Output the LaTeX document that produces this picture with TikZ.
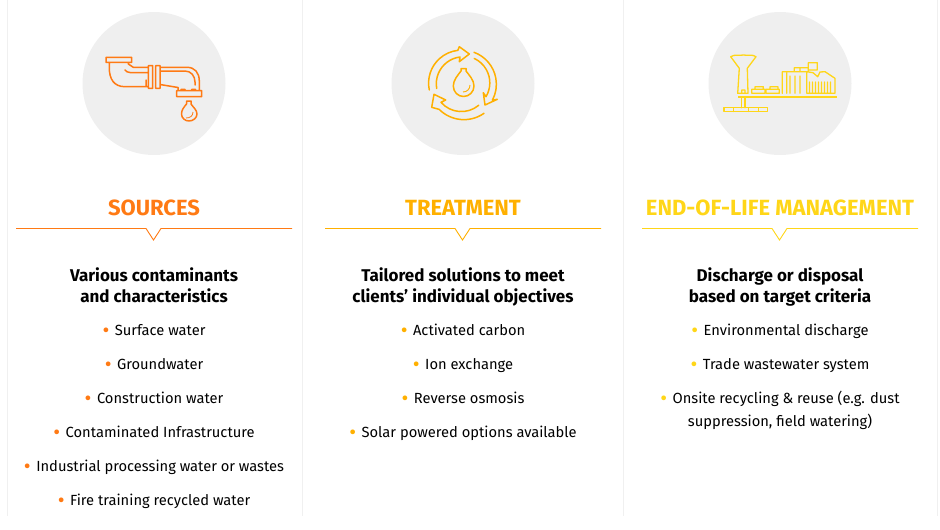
\documentclass[tikz,border=0pt]{standalone}
\usepackage{fontspec}
\setmainfont{Fira Sans}
\usetikzlibrary{positioning}
\definecolor{srcorange}{HTML}{FF7A14}
\definecolor{trtamber}{HTML}{FFB000}
\definecolor{endyellow}{HTML}{FFD618}
\definecolor{discgray}{HTML}{EFEFEF}
\definecolor{sepgray}{HTML}{F0F0F0}
\newcommand{\bul}[1]{\strut{\color{#1}\raisebox{-1.6pt}{\fontsize{21}{21}\selectfont\textbullet}}\hspace{5.5pt}}
\tikzset{
  disc/.style={circle,fill=discgray,minimum size=143pt,inner sep=0pt},
  heading/.style={font=\fontsize{22}{26}\selectfont\bfseries},
  subhead/.style={font=\fontsize{17}{19.5}\selectfont\bfseries,align=center,text=black},
  item/.style={font=\fontsize{14.7}{23}\selectfont,align=center,text=black},
  sep/.style={draw=sepgray,line width=1pt},
  rulestyle/.style={line width=.9pt},
  icon/.style={line width=1.5pt,line cap=round,line join=round}
}
\begin{document}
\begin{tikzpicture}[x=1pt,y=-1pt]
  \useasboundingbox (0,0) rectangle (940,530);
  % column separators
  \coordinate (s1a) at (7,0);   \coordinate (s1b) at (7,516);
  \coordinate (s2a) at (302,0); \coordinate (s2b) at (302,516);
  \coordinate (s3a) at (623,0); \coordinate (s3b) at (623,516);
  \coordinate (s4a) at (937,0); \coordinate (s4b) at (937,516);
  \draw[sep] (s1a) -- (s1b) (s2a) -- (s2b) (s3a) -- (s3b) (s4a) -- (s4b);
  % circles
  \node[disc] (d1) at (154,83.5) {};
  \node[disc] (d2) at (463,83.5) {};
  \node[disc] (d3) at (780,83.5) {};
  % faucet
  \draw[icon,srcorange]
    (106,57.3) rectangle (131.7,62.3)
    (109.3,62.3) -- (109.3,68) .. controls (109.3,79) and (114,86.7) .. (125,86.7) -- (148.3,86.7)
    (128.3,62.3) -- (128.3,64) -- (133.3,67.3) -- (148.3,67.3)
    (125,70) .. controls (126,71.5) and (128,72.5) .. (130,72.5) -- (148.3,72.5)
    (146,80) -- (146,86)
    (148.3,65.7) rectangle (152.7,88.3)
    (155.7,65.7) rectangle (160,88.3)
    (160,67.3) -- (187,67.3) .. controls (195,67.3) and (199.3,73) .. (199.3,81) -- (199.3,90.7)
    (160,71) -- (185,71) .. controls (191,71) and (195,76) .. (195,82) -- (195,85)
    (160,84.5) -- (178,87.5) -- (178,90.7)
    (176.7,90.7) rectangle (201.7,96.7)
    (181,89.3) -- (185,89.3) (191.7,89.3) -- (195.5,89.3);
  \draw[icon,srcorange]
    (186.5,101) -- (186.5,104) .. controls (184,107) and (181.5,110) .. (181.5,114)
    .. controls (181.5,118) and (185,121) .. (189,121)
    .. controls (193,121) and (197,118) .. (197,114)
    .. controls (197,110) and (193,107) .. (191,104) -- (191,101) -- cycle;
  \draw[line width=.8pt,srcorange] (186,118) .. controls (190,118) and (193,116) .. (193,112);
  % recycle arrows
  \draw[icon,trtamber]
    (429.3,90) arc[start angle=168,end angle=263.5,radius=33]
    -- (459.3,46.7) -- (469.3,54) -- (459.3,61.7) -- (460,57)
    arc[start angle=263,end angle=170,radius=27];
  \draw[icon,trtamber]
    (474,52.3) arc[start angle=-70,end angle=28,radius=34]
    -- (497.3,99.3) -- (485,105) -- (483.3,92.7) -- (486,96.7)
    arc[start angle=30.8,end angle=-65,radius=27];
  \draw[icon,trtamber]
    (484,113.3) arc[start angle=55,end angle=135,radius=35]
    -- (431.7,107.3) -- (434,94.3) -- (445.7,100) -- (441,102.3)
    arc[start angle=139,end angle=50,radius=27];
  \draw[icon,trtamber]
    (461,68.5) -- (461,71) .. controls (458,75) and (453.3,80) .. (453.3,86)
    .. controls (453.3,92) and (458,96.5) .. (463.5,96.5)
    .. controls (469,96.5) and (474,92) .. (474,86)
    .. controls (474,80) and (469,75) .. (466,71) -- (466,68.5) -- cycle;
  \draw[line width=.9pt,trtamber] (463,92) .. controls (467,92) and (470,89) .. (470,85);
  % plant
  \draw[icon,endyellow,line width=1.3pt]
    (730.7,56.7) .. controls (735,54) and (738,56) .. (743.5,55) .. controls (749,56) and (752,54) .. (756,56.7) -- (747.3,68.3) -- (748,93.3) -- (737.7,93.3) -- (739.3,68.3) -- cycle
    (741.7,93.3) -- (741.7,90) -- (745,90) -- (745,93.3)
    (751.7,89.3) rectangle (765,93.3) (766,89.3) rectangle (779.3,93.3)
    (755,89.3) -- (755,86.7) -- (763.3,86.7) -- (763.3,89.3)
    (770,89.3) -- (770,86.7) -- (778,86.7) -- (778,89.3)
    (782.3,93.3) -- (782.3,71.7) -- (806.7,71.7) -- (806.7,93.3)
    (786.7,73) -- (786.7,93.3) (790,76) -- (790,93.3) (795,76) -- (795,93.3) (800,76) -- (800,93.3)
    (794.3,71.7) -- (794.3,67.7) -- (808.3,67.7) -- (808.3,71.7)
    (800,67.7) -- (800,71.7)
    (808.3,67.7) -- (808.3,62.7) -- (817.3,62.7) -- (817.3,70) -- (808.3,70)
    (806.7,71.7) -- (813,72.7) -- (817.7,76.7) -- (820,72) -- (825,71.7) -- (835,78.3) -- (835,93.3) -- (806.7,93.3)
    (809.5,82) -- (809.5,92.5) (812.5,82) -- (812.5,92.5) (815.5,82) -- (815.5,92.5) (818.5,82) -- (818.5,92.5)
    (821.5,82) -- (821.5,92.5) (824.5,82) -- (824.5,92.5) (827.5,82) -- (827.5,92.5) (830.5,82) -- (830.5,92.5);
  \fill[endyellow] (737.7,95.5) rectangle (836.7,98.3);
  \draw[icon,endyellow,line width=1.3pt]
    (741.7,98.3) -- (741.7,107.7) (745,98.3) -- (745,107.7)
    (724,107.7) rectangle (767.7,111.5) (733.3,107.7) -- (733.3,111.5) (748.3,107.7) -- (748.3,111.5) (758.3,107.7) -- (758.3,111.5);
  % headings
  \node[heading,text=srcorange] (h1) at (154,208) {SOURCES};
  \node[heading,text=trtamber] (h2) at (463,208) {TREATMENT};
  \node[heading,text=endyellow] (h3) at (780,208) {END-OF-LIFE MANAGEMENT};
  % rules with notch
  \coordinate (r1a) at (16,228.5);  \coordinate (r1b) at (292,228.5);  \coordinate (n1) at (153.5,240);
  \coordinate (r2a) at (325,228.5); \coordinate (r2b) at (601,228.5);  \coordinate (n2) at (462.5,240);
  \coordinate (r3a) at (642,228.5); \coordinate (r3b) at (918,228.5);  \coordinate (n3) at (779.5,240);
  \draw[rulestyle,srcorange] (r1a) -- ([xshift=-7.5pt]n1 |- r1a) -- (n1) -- ([xshift=7.5pt]n1 |- r1a) -- (r1b);
  \draw[rulestyle,trtamber] (r2a) -- ([xshift=-7.5pt]n2 |- r2a) -- (n2) -- ([xshift=7.5pt]n2 |- r2a) -- (r2b);
  \draw[rulestyle,endyellow] (r3a) -- ([xshift=-7.5pt]n3 |- r3a) -- (n3) -- ([xshift=7.5pt]n3 |- r3a) -- (r3b);
  % sub headings
  \node[subhead] (t1) at (154,288) {\strut Various contaminants\\\strut and characteristics};
  \node[subhead] (t2) at (463,288) {\strut Tailored solutions to meet\\\strut clients’ individual objectives};
  \node[subhead] (t3) at (780,288) {\strut Discharge or disposal\\\strut based on target criteria};
  % first column
  \node[item] (a1) at (154,331) {\bul{srcorange}Surface water};
  \node[item] (a2) at (154,365) {\bul{srcorange}Groundwater};
  \node[item] (a3) at (154,399) {\bul{srcorange}Construction water};
  \node[item] (a4) at (154,433) {\bul{srcorange}Contaminated Infrastructure};
  \node[item] (a5) at (154,467) {\bul{srcorange}Industrial processing water or wastes};
  \node[item] (a6) at (154,501) {\bul{srcorange}Fire training recycled water};
  % second column
  \node[item] (b1) at (463,331) {\bul{trtamber}Activated carbon};
  \node[item] (b2) at (463,365) {\bul{trtamber}Ion exchange};
  \node[item] (b3) at (463,399) {\bul{trtamber}Reverse osmosis};
  \node[item] (b4) at (463,433) {\bul{trtamber}Solar powered options available};
  % third column
  \node[item] (c1) at (780,331) {\bul{endyellow}Environmental discharge};
  \node[item] (c2) at (780,365) {\bul{endyellow}Trade wastewater system};
  \node[item] (c3) at (780,410.5) {\bul{endyellow}Onsite recycling \& reuse (e.g. dust\\\strut suppression, field watering)};
\end{tikzpicture}
\end{document}
